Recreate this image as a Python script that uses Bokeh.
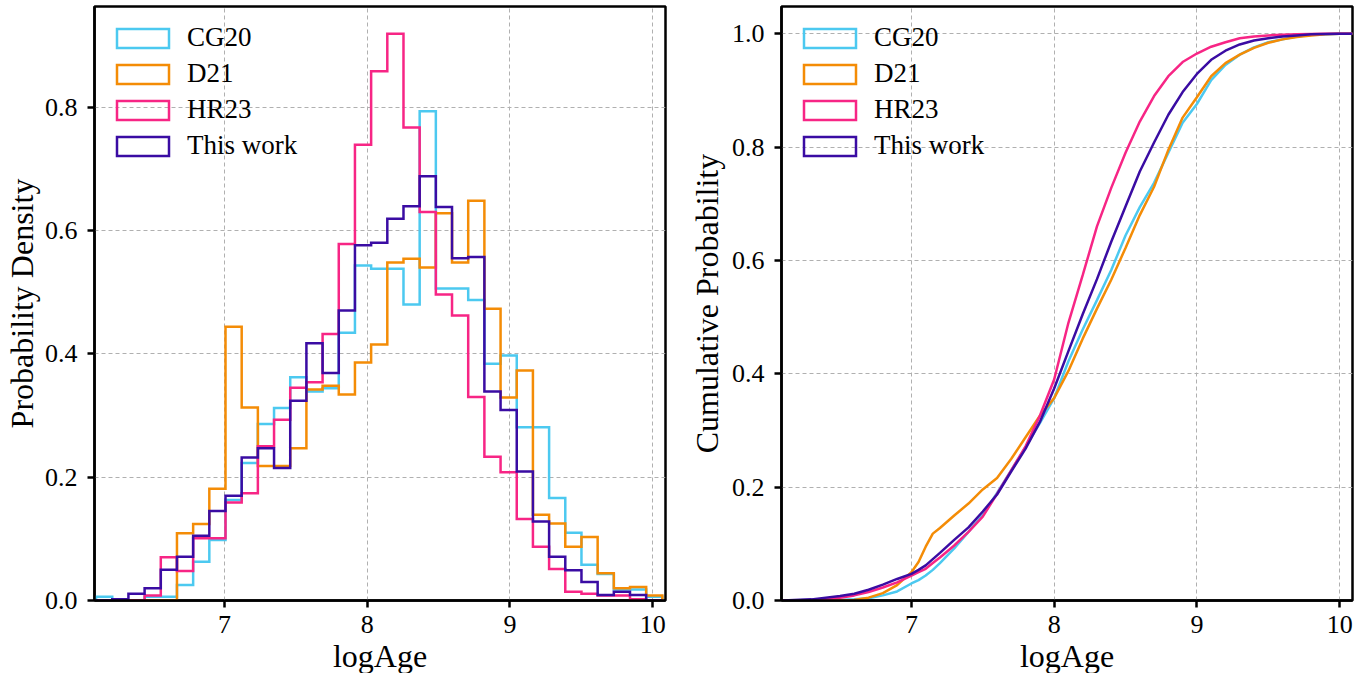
import numpy as np
from bokeh.plotting import figure
from bokeh.models import (Range1d, FixedTicker, PrintfTickFormatter, Legend, LegendItem)
from bokeh.layouts import row
from bokeh.embed import file_html
from bokeh.resources import INLINE

# ---------------- data ----------------
series_labels = ["CG20", "D21", "HR23", "This work"]
series_colors = ["#4CC9F0", "#F48C06", "#F72585", "#3A0CA3"]

# histogram: 35 common bins between these limits (logAge)
bin_lo = 6.101
bin_hi = 10.068
n_bins = 35

dens_cg20 = [0.006, 0.0, 0.0, 0.006, 0.006, 0.025, 0.063, 0.098, 0.163, 0.223,
             0.286, 0.312, 0.362, 0.339, 0.344, 0.434, 0.543, 0.538, 0.538, 0.480,
             0.793, 0.506, 0.506, 0.487, 0.384, 0.397, 0.281, 0.281, 0.166, 0.110,
             0.058, 0.043, 0.018, 0.018, 0.006]
dens_d21 = [0.0, 0.0, 0.0, 0.0, 0.0, 0.109, 0.124, 0.181, 0.444, 0.313,
            0.218, 0.218, 0.247, 0.342, 0.348, 0.334, 0.386, 0.415, 0.548, 0.554,
            0.540, 0.628, 0.548, 0.648, 0.473, 0.329, 0.373, 0.139, 0.125, 0.087,
            0.103, 0.044, 0.020, 0.022, 0.008]
dens_hr23 = [0.0, 0.0, 0.0, 0.008, 0.070, 0.048, 0.101, 0.101, 0.159, 0.174,
             0.250, 0.293, 0.345, 0.354, 0.432, 0.578, 0.739, 0.858, 0.919, 0.767,
             0.630, 0.496, 0.462, 0.330, 0.233, 0.208, 0.132, 0.087, 0.051, 0.014,
             0.011, 0.008, 0.008, 0.002, 0.0]
dens_this = [0.0, 0.002, 0.011, 0.020, 0.050, 0.071, 0.105, 0.145, 0.170, 0.232,
             0.247, 0.215, 0.324, 0.417, 0.369, 0.470, 0.576, 0.580, 0.619, 0.639,
             0.688, 0.638, 0.555, 0.557, 0.339, 0.309, 0.209, 0.128, 0.071, 0.049,
             0.030, 0.009, 0.014, 0.009, 0.0]

# cumulative distribution read at these logAge values
cdf_x = [6.10, 6.3, 6.5, 6.6, 6.7, 6.8, 6.9, 7.0, 7.05, 7.1, 7.15, 7.2, 7.3, 7.4, 7.5,
         7.6, 7.7, 7.8, 7.9, 8.0, 8.1, 8.2, 8.3, 8.4, 8.5, 8.6, 8.7, 8.8, 8.9, 9.0,
         9.1, 9.2, 9.3, 9.4, 9.5, 9.6, 9.7, 9.8, 9.9, 10.0, 10.09]
cdf_cg20 = [0.0, 0.001, 0.001, 0.002, 0.004, 0.009, 0.016, 0.030, 0.036, 0.044, 0.054, 0.066, 0.092, 0.121, 0.151,
            0.190, 0.230, 0.271, 0.313, 0.357, 0.422, 0.478, 0.530, 0.583, 0.644, 0.694, 0.737, 0.790, 0.843, 0.876,
            0.918, 0.945, 0.963, 0.976, 0.985, 0.990, 0.995, 0.998, 0.999, 1.0, 1.0]
cdf_d21 = [0.0, 0.0, 0.0, 0.001, 0.005, 0.013, 0.027, 0.050, 0.068, 0.095, 0.118, 0.128, 0.150, 0.171, 0.196,
           0.216, 0.250, 0.288, 0.326, 0.357, 0.405, 0.462, 0.515, 0.566, 0.622, 0.680, 0.730, 0.795, 0.852, 0.888,
           0.925, 0.948, 0.963, 0.975, 0.984, 0.990, 0.994, 0.997, 0.999, 1.0, 1.0]
cdf_hr23 = [0.0, 0.001, 0.005, 0.009, 0.015, 0.023, 0.032, 0.044, 0.050, 0.056, 0.066, 0.076, 0.097, 0.121, 0.148,
            0.188, 0.230, 0.272, 0.326, 0.390, 0.490, 0.574, 0.660, 0.728, 0.790, 0.845, 0.890, 0.925, 0.950, 0.965,
            0.977, 0.985, 0.992, 0.995, 0.997, 0.998, 0.999, 0.9995, 1.0, 1.0, 1.0]
cdf_this = [0.0, 0.002, 0.008, 0.012, 0.019, 0.028, 0.038, 0.047, 0.054, 0.062, 0.073, 0.084, 0.107, 0.129, 0.157,
            0.187, 0.228, 0.268, 0.315, 0.374, 0.440, 0.505, 0.567, 0.633, 0.695, 0.757, 0.808, 0.857, 0.897, 0.929,
            0.954, 0.970, 0.981, 0.988, 0.992, 0.995, 0.997, 0.999, 0.9995, 1.0, 1.0]

x_ticks = [7, 8, 9, 10]
hist_y_ticks = [0.0, 0.2, 0.4, 0.6, 0.8]
cdf_y_ticks = [0.0, 0.2, 0.4, 0.6, 0.8, 1.0]

hist_data = [dens_cg20, dens_d21, dens_hr23, dens_this]
cdf_data = [cdf_cg20, cdf_d21, cdf_hr23, cdf_this]

# ---------------- styling ----------------
FONT = "Liberation Serif"
LW = 2.5


def make_fig(ylabel, yend, yticks, border_left, border_right, ylabel_standoff):
    p = figure(frame_width=571, frame_height=594,
               x_range=Range1d(6.09, 10.09), y_range=Range1d(0, yend),
               output_backend="svg", toolbar_location=None,
               min_border_left=border_left, min_border_right=border_right,
               min_border_top=6, min_border_bottom=66)
    p.outline_line_color = "black"
    p.outline_line_width = LW
    p.background_fill_color = "white"
    p.border_fill_color = "white"
    for ax in (p.xaxis[0], p.yaxis[0]):
        ax.axis_line_width = LW
        ax.axis_line_color = "black"
        ax.major_tick_line_width = LW
        ax.major_tick_line_color = "black"
        ax.major_tick_out = 7
        ax.major_tick_in = 0
        ax.minor_tick_line_color = None
        ax.major_label_text_font = FONT
        ax.major_label_text_font_size = "26px"
        ax.major_label_text_color = "black"
        ax.axis_label_text_font = FONT
        ax.axis_label_text_font_size = "32px"
        ax.axis_label_text_font_style = "normal"
        ax.axis_label_text_color = "black"
    p.xaxis.ticker = FixedTicker(ticks=x_ticks)
    p.yaxis.ticker = FixedTicker(ticks=yticks)
    p.yaxis.formatter = PrintfTickFormatter(format="%.1f")
    p.xaxis.axis_label = "logAge"
    p.yaxis.axis_label = ylabel
    p.xaxis.major_label_standoff = 8
    p.xaxis.axis_label_standoff = 2
    p.yaxis.major_label_standoff = 10
    p.yaxis.axis_label_standoff = ylabel_standoff
    p.grid.grid_line_color = "#b0b0b0"
    p.grid.grid_line_dash = "4 3"
    p.grid.grid_line_width = 1
    return p


def add_legend(p):
    items = []
    for lab, col in zip(series_labels, series_colors):
        # a zero-size quad outside the visible range: only used for its legend swatch
        r = p.quad(left=[0.0], right=[0.0], top=[0.0], bottom=[0.0], fill_color=None,
                   line_color=col, line_width=LW, line_join="miter")
        items.append(LegendItem(label=lab, renderers=[r]))
    leg = Legend(items=items, location="top_left")
    leg.border_line_alpha = 0
    leg.background_fill_alpha = 0
    leg.glyph_width = 65
    leg.glyph_height = 24
    leg.spacing = 5
    leg.padding = 6
    leg.margin = 10
    leg.label_standoff = 12
    leg.label_text_font = FONT
    leg.label_text_font_size = "27px"
    leg.label_text_color = "black"
    p.add_layout(leg)


# ---------------- left: histogram ----------------
p1 = make_fig("Probability Density", 0.963, hist_y_ticks, 92, 8, 2)
edges = np.linspace(bin_lo, bin_hi, n_bins + 1)
for dens, col in zip(hist_data, series_colors):
    xs = np.repeat(edges, 2)
    ys = np.concatenate([[0.0], np.repeat(np.asarray(dens), 2), [0.0]])
    p1.line(xs, ys, line_color=col, line_width=LW, line_join="miter")
add_legend(p1)

# ---------------- right: cumulative ----------------
p2 = make_fig("Cumulative Probability", 1.048, cdf_y_ticks, 108, 10, 4)
for cdf, col in zip(cdf_data, series_colors):
    p2.line(cdf_x, cdf, line_color=col, line_width=LW)
add_legend(p2)

layout = row(p1, p2)
open("out.html", "w").write(file_html(layout, INLINE))
